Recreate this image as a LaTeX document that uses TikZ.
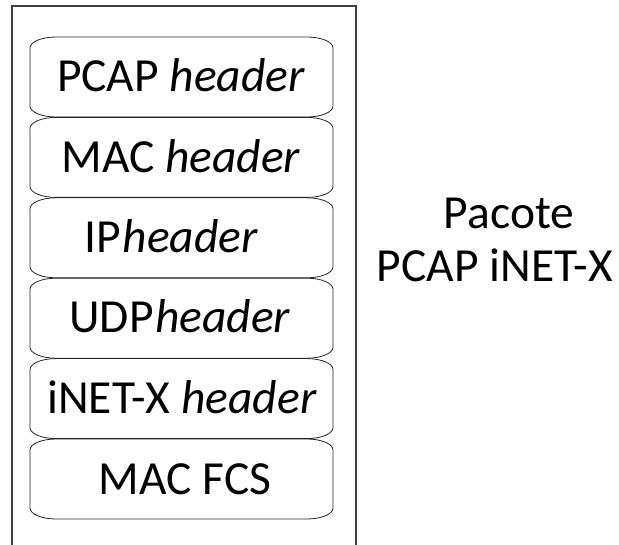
\documentclass[tikz,border=0pt]{standalone}
\usepackage{fontspec}
\setmainfont{Carlito}
\tikzset{
  x=1pt, y=1pt,
  frameline/.style={draw=black!75, line width=1.6pt},
  layerbox/.style={draw=black!85, line width=0.8pt},
  layertext/.style={anchor=base, inner sep=0pt, font=\fontsize{47.5}{56}\selectfont},
}
\begin{document}
\begin{tikzpicture}
  \useasboundingbox (0,0) rectangle (619,-545);
  % outer frame, open at the bottom
  \draw[frameline] (12,-548) |- (356,-6) -- (356,-548);
  % stacked header layers
  \foreach \t in {37,117.4,197.8,278.2,358.6,439} {
    \draw[layerbox] (56,-\t) -- (307,-\t)
      arc[start angle=90,end angle=0,x radius=26,y radius=11]
      -- (333,{-\t-69})
      arc[start angle=0,end angle=-90,x radius=26,y radius=11]
      -- (56,{-\t-80})
      arc[start angle=270,end angle=180,x radius=26,y radius=11]
      -- (30,{-\t-11})
      arc[start angle=180,end angle=90,x radius=26,y radius=11]
      -- cycle;
  }
  \node[layertext] (pcap)  at (181,-92)   {PCAP \textit{header}};
  \node[layertext] (mac)   at (181,-173)  {MAC \textit{header}};
  \node[layertext] (ip)    at (171.5,-253){IP\hspace{1.5pt}\textit{header}};
  \node[layertext] (udp)   at (180,-333)  {UDP\hspace{1.5pt}\textit{header}};
  \node[layertext] (inetx) at (182,-414)  {iNET-X \textit{header}};
  \node[layertext] (fcs)   at (185,-494)  {MAC FCS};
  % packet label
  \node[layertext] (pacote) at (509,-229) {Pacote};
  \node[layertext] (pkt)    at (495,-282) {PCAP iNET-X};
\end{tikzpicture}
\end{document}
